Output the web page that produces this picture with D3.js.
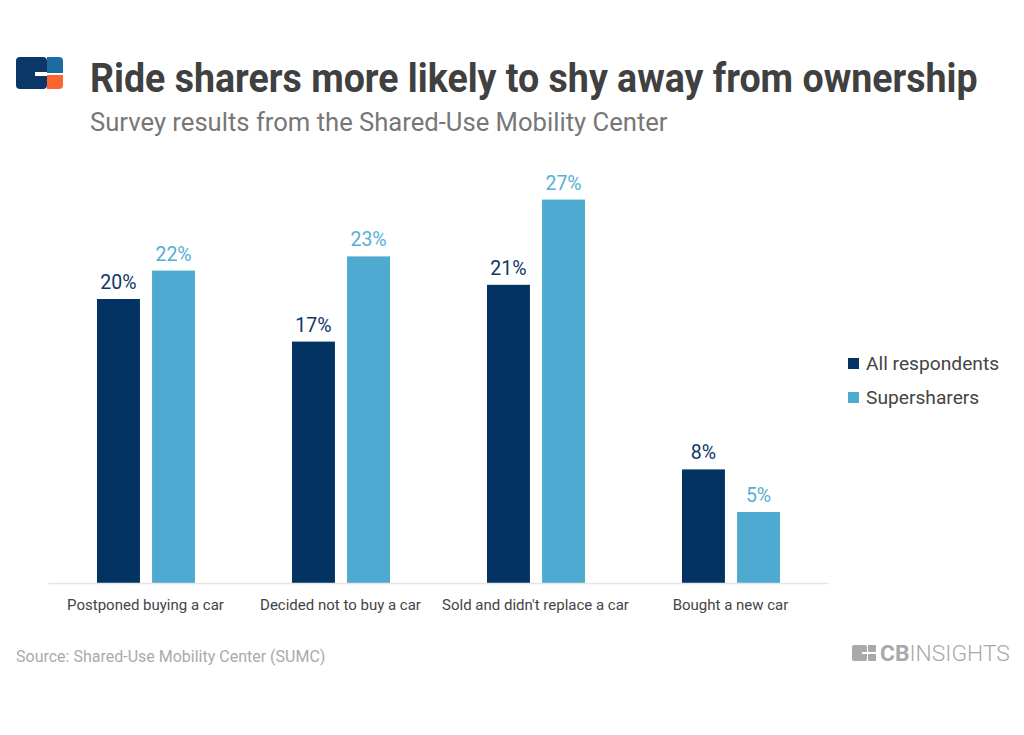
<!DOCTYPE html>
<html>
<head>
<meta charset="utf-8">
<script src="https://cdn.jsdelivr.net/npm/d3@7/dist/d3.min.js"></script>
<style>
body { margin: 0; background: #fff; }
svg { display: block; font-family: Roboto, "Noto Sans", sans-serif; }
</style>
</head>
<body>
<svg id="chart" width="1024" height="735"></svg>
<script>
const categories = ["Postponed buying a car", "Decided not to buy a car", "Sold and didn't replace a car", "Bought a new car"];
const seriesNames = ["All respondents", "Supersharers"];
const allRespondents = [20, 17, 21, 8];
const supersharers = [22, 23, 27, 5];
const colors = ["#023363", "#4eaad0"];
const labelColors = ["#0e3766", "#55b0d4"];

const svg = d3.select("#chart");

// Header logo
const logo = svg.append("g");
logo.append("rect").attr("x", 16).attr("y", 57).attr("width", 31).attr("height", 32).attr("rx", 4).attr("fill", "#0a3766");
logo.append("rect").attr("x", 35).attr("y", 72).attr("width", 12).attr("height", 4).attr("fill", "#fff");
logo.append("path").attr("d", "M47,57 H59 Q63,57 63,61 V73 H47 Z").attr("fill", "#1c6ca3");
logo.append("path").attr("d", "M47,75 H63 V85 Q63,89 59,89 H47 Z").attr("fill", "#fb6530");

function fitText(sel, width) {
  const len = sel.node().getComputedTextLength();
  const k = width / len;
  const x = +sel.attr("x"), yy = +sel.attr("y");
  sel.attr("x", 0).attr("y", 0).attr("transform", `translate(${x},${yy}) scale(${k},1)`);
}

const title = svg.append("text").attr("x", 90).attr("y", 92)
  .attr("font-size", 40).attr("font-weight", 700).attr("fill", "#404040")
  .text("Ride sharers more likely to shy away from ownership");
fitText(title, 888);
const sub = svg.append("text").attr("x", 90).attr("y", 131)
  .attr("font-size", 25).attr("fill", "#777")
  .text("Survey results from the Shared-Use Mobility Center");
fitText(sub, 578);

const x0 = d3.scaleBand().domain(categories).range([48, 828]).padding(0);
const x1 = d3.scaleBand().domain(seriesNames).range([49, 147]).paddingInner(0.22).paddingOuter(0);
const y = d3.scaleLinear().domain([0, 30]).range([583, 157]);

const data = categories.map((c, i) => ({ cat: c, vals: [allRespondents[i], supersharers[i]] }));

const groups = svg.append("g").selectAll("g").data(data).join("g")
  .attr("transform", d => `translate(${x0(d.cat)},0)`);

groups.selectAll("rect").data(d => d.vals.map((v, j) => ({ v, s: seriesNames[j], j })))
  .join("rect")
  .attr("x", d => x1(d.s))
  .attr("y", d => y(d.v))
  .attr("width", x1.bandwidth())
  .attr("height", d => y(0) - y(d.v))
  .attr("fill", d => colors[d.j]);

groups.selectAll("text.val").data(d => d.vals.map((v, j) => ({ v, s: seriesNames[j], j })))
  .join("text").attr("class", "val")
  .attr("x", d => x1(d.s) + x1.bandwidth() / 2)
  .attr("y", d => y(d.v) - 10)
  .attr("text-anchor", "middle")
  .attr("font-size", 19.5)
  .attr("fill", d => labelColors[d.j])
  .text(d => d.v + "%");

// axis
const axis = svg.append("g").attr("transform", `translate(0,${y(0)})`)
  .call(d3.axisBottom(x0).tickSize(0).tickPadding(16));
axis.select(".domain").attr("stroke", "#e6e6e6").attr("stroke-width", 1.5);
axis.selectAll("text").attr("font-size", 15).attr("fill", "#444").attr("font-family", "Roboto, sans-serif");

// legend
const legend = svg.append("g").attr("transform", "translate(848,358)");
seriesNames.forEach((s, i) => {
  const g = legend.append("g").attr("transform", `translate(0,${i * 34})`);
  g.append("rect").attr("width", 11).attr("height", 11).attr("fill", colors[i]);
  g.append("text").attr("x", 18).attr("y", 12).attr("font-size", 19.2).attr("fill", "#444").text(s);
});

// footer
svg.append("text").attr("x", 16).attr("y", 662).attr("font-size", 16).attr("fill", "#aaa")
  .text("Source: Shared-Use Mobility Center (SUMC)");

const cb = svg.append("g").attr("fill", "#a9a9a9");
cb.append("rect").attr("x", 852).attr("y", 645).attr("width", 15).attr("height", 16).attr("rx", 2);
cb.append("rect").attr("x", 868).attr("y", 645).attr("width", 8).attr("height", 7).attr("rx", 1);
cb.append("rect").attr("x", 868).attr("y", 654).attr("width", 8).attr("height", 7).attr("rx", 1);
cb.append("rect").attr("x", 862).attr("y", 652).attr("width", 5).attr("height", 2).attr("fill", "#fff");
const cbt = cb.append("text").attr("x", 880).attr("y", 661).attr("font-size", 22);
cbt.append("tspan").attr("font-weight", 700).text("CB");
cbt.append("tspan").attr("font-weight", 300).text("INSIGHTS");
fitText(cbt, 130);
</script>
</body>
</html>
